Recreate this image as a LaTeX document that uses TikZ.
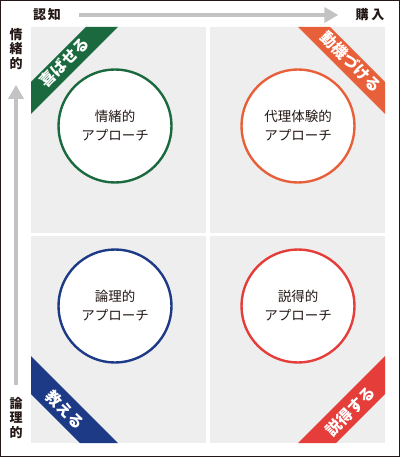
\documentclass[tikz,border=0pt]{standalone}
\usepackage{fontspec}
\setmainfont{Noto Sans CJK JP}
\usetikzlibrary{arrows.meta}
\definecolor{panelgray}{HTML}{EEEEEE}
\definecolor{axisgray}{HTML}{C3C3C3}
\definecolor{inkblack}{HTML}{231815}
\definecolor{emogreen}{HTML}{1B6A3F}
\definecolor{vicorange}{HTML}{E8603A}
\definecolor{logblue}{HTML}{1D3A87}
\definecolor{perred}{HTML}{E53D3A}
\tikzset{
  panel/.style={fill=panelgray},
  approach/.style={circle, draw=#1, line width=2.4bp, fill=white, minimum size=113bp,
    inner sep=0pt, align=center, text=inkblack, font=\fontsize{13.5bp}{19bp}\selectfont},
  bandtext/.style={text=white, inner sep=0pt, font=\bfseries\fontsize{15.5bp}{15.5bp}\selectfont},
  axislabel/.style={text=inkblack, inner sep=0pt, align=center,
    font=\bfseries\fontsize{13bp}{14.5bp}\selectfont},
  axisarrow/.style={axisgray, line width=4bp, -{Triangle[length=14bp,width=15bp]}}
}
\begin{document}
\begin{tikzpicture}[x=1bp,y=-1bp]
\useasboundingbox (0,0) rectangle (400,457);
\draw[inkblack, line width=1bp] (0.5,0.5) rectangle (399.5,456.5);

\fill[panel] (31,27) rectangle (206,233);
\fill[panel] (210,27) rectangle (385,233);
\fill[panel] (31,236) rectangle (206,443);
\fill[panel] (210,236) rectangle (385,443);

\fill[emogreen] (86,27) -- (118,27) -- (31,114) -- (31,82) -- cycle;
\fill[vicorange] (330,27) -- (298,27) -- (385,114) -- (385,82) -- cycle;
\fill[logblue] (31,356) -- (118,443) -- (80,443) -- (31,394) -- cycle;
\fill[perred] (385,356) -- (385,394) -- (336,443) -- (298,443) -- cycle;

\node[bandtext, rotate=45] (please) at (64,62) {喜ばせる};
\node[bandtext, rotate=-45] (motivate) at (351,62) {動機づける};
\node[bandtext, rotate=-45] (teach) at (65,410) {教える};
\node[bandtext, rotate=45] (persuade) at (350,411) {説得する};

\node[approach=emogreen] (emotional) at (115,126) {情緒的\\アプローチ};
\node[approach=vicorange] (vicarious) at (298,126) {代理体験的\\アプローチ};
\node[approach=logblue] (logical) at (115,306) {論理的\\アプローチ};
\node[approach=perred] (persuasive) at (298,306) {説得的\\アプローチ};

\node[axislabel] (cognition) at (47,15) {認\kern2bp 知};
\node[axislabel] (purchase) at (370,15) {購\kern3bp 入};
\node[axislabel] (emotionalaxis) at (16,49) {情\\緒\\的};
\node[axislabel] (logicalaxis) at (16,418) {論\\理\\的};

\draw[axisarrow, shorten <=18bp, shorten >=17bp] (cognition) -- (purchase);
\draw[axisarrow, shorten <=12bp, shorten >=15bp] (logicalaxis) -- (emotionalaxis);
\end{tikzpicture}
\end{document}
